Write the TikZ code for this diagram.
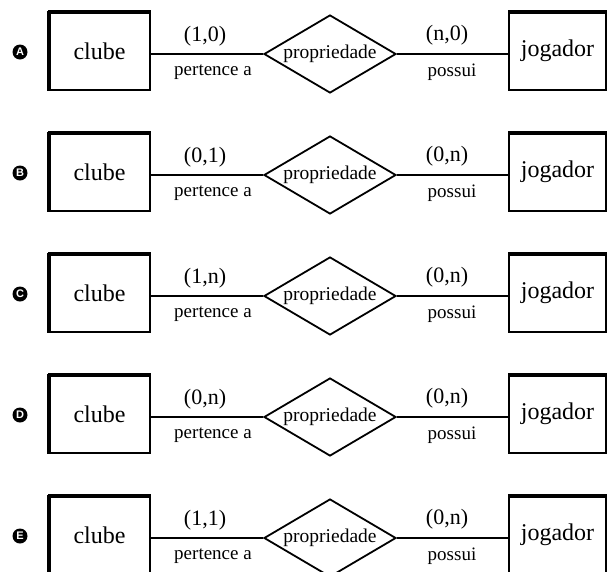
\documentclass[tikz,border=0pt]{standalone}
\usepackage{fontspec}
\setmainfont{Liberation Serif}
\newfontfamily\lettfont{Liberation Sans}
\usetikzlibrary{shapes.geometric}
\tikzset{
  entbox/.style={draw, line width=1.6pt, rectangle, minimum width=101pt, minimum height=78pt, inner sep=0pt, font=\fontsize{24}{26}\selectfont},
  relbox/.style={draw, line width=1.8pt, diamond, minimum width=132pt, minimum height=78pt, inner sep=0pt, shape aspect=1.7, font=\fontsize{19.5}{21}\selectfont},
  conn/.style={line width=1.4pt},
  card/.style={font=\fontsize{22}{24}\selectfont, inner sep=0pt},
  role/.style={font=\fontsize{19}{21}\selectfont, inner sep=0pt},
  lett/.style={circle, fill=black, text=white, inner sep=0pt, minimum size=15pt, font=\lettfont\bfseries\fontsize{11}{11}\selectfont},
  thickedge/.style={line width=3.6pt}
}
\begin{document}
\begin{tikzpicture}[x=1pt,y=-1pt]
\useasboundingbox (0,0) rectangle (608,571);
\foreach \L/\y/\cl/\cr in {A/54/{(1,0)}/{(n,0)}, B/175/{(0,1)}/{(0,n)}, C/296/{(1,n)}/{(0,n)}, D/417/{(0,n)}/{(0,n)}, E/538/{(1,1)}/{(0,n)}}{
  \node[lett] (l\L) at (20,\y-2) {\L};
  \node[entbox] (c\L) at (99.5,\y-3) {clube};
  \node[entbox, minimum width=97pt] (j\L) at (557.5,\y-3) {jogador};
  \node[relbox] (r\L) at (330,\y) {propriedade};
  \draw[thickedge] ([xshift=1pt]c\L.south west) -- ([xshift=1pt]c\L.north west);
  \draw[thickedge] ([yshift=-1pt]c\L.north west) -- ([yshift=-1pt]c\L.north east);
  \draw[thickedge] ([yshift=-1pt]j\L.north west) -- ([yshift=-1pt]j\L.north east);
  \draw[conn] (r\L.west) -- (r\L.west -| c\L.east);
  \draw[conn] (r\L.east) -- (r\L.east -| j\L.west);
  \node[card] (cl\L) at (205,\y-18) {\cl};
  \node[role] (pl\L) at (213,\y+18) {pertence a};
  \node[card] (cr\L) at (447,\y-19) {\cr};
  \node[role] (pr\L) at (452,\y+18) {possui};
}
\end{tikzpicture}
\end{document}
